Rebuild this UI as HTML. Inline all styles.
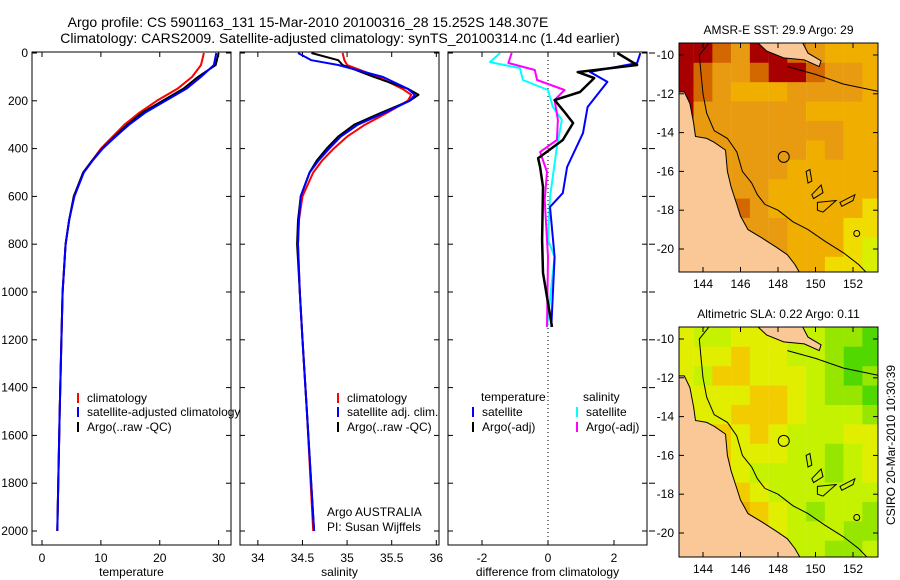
<!DOCTYPE html>
<html><head><meta charset="utf-8"><style>
body{margin:0;background:#fff}
svg{display:block;font-family:"Liberation Sans",sans-serif}
</style></head><body>
<svg id="fig" width="900" height="580" viewBox="0 0 900 580" xmlns="http://www.w3.org/2000/svg">
<rect width="900" height="580" fill="#fff"/>
<text x="308" y="27" font-size="14" text-anchor="middle">Argo profile: CS 5901163_131 15-Mar-2010 20100316_28 15.252S 148.307E</text>
<text x="340" y="43" font-size="14" text-anchor="middle">Climatology: CARS2009. Satellite-adjusted climatology: synTS_20100314.nc (1.4d earlier)</text>
<g id="g"></g>
</svg>
<script>
// ---- profile data ----
const depthT=[0,50,100,150,200,250,300,350,400,450,500,600,700,800,1000,1200,1500,2000];
const tempClim=[27.5,27,25.5,23,19.5,16.5,14,12,10,8.5,7,5.4,4.6,4,3.5,3.3,3.0,2.6];
const tempSat=[29.6,29.2,27,24.5,21,17.5,14.8,12.5,10.3,8.6,7.1,5.5,4.6,4,3.5,3.3,3.0,2.6];
const tempArgo=[30,29.5,26.5,24,20.5,17,14.5,12.3,10.2,8.5,7,5.4,4.6,4.0,3.5,3.3,3.0,2.6];
const depthS=[0,30,50,100,150,175,200,250,300,350,400,450,500,600,700,800,1000,1200,1500,2000];
const salClim=[34.95,34.97,35.0,35.35,35.62,35.72,35.68,35.45,35.2,35.0,34.85,34.72,34.62,34.5,34.46,34.45,34.47,34.5,34.55,34.62];
const salSat=[34.45,34.6,34.9,35.4,35.68,35.76,35.7,35.42,35.12,34.93,34.8,34.68,34.58,34.48,34.46,34.45,34.47,34.5,34.55,34.63];
const salArgo=[34.6,34.9,34.95,35.3,35.68,35.8,35.7,35.38,35.08,34.9,34.77,34.66,34.58,34.48,34.45,34.44,34.47,34.5,34.55,34.63];
const dBT=[0,42,79,121,226,335,477,586,644,853,1146];
const diffTSat=[2.8,2.7,1.27,1.8,1.2,1.06,0.58,0.45,0.06,0.2,0.1];
const dAT=[0,50,80,105,163,197,247,293,364,440,477,560,782,920,1146];
const diffTArgo=[2.1,2.7,0.9,1.4,0.97,0.2,0.5,0.76,0.45,-0.3,-0.24,-0.15,-0.18,-0.15,0.12];
const dM=[0,42,71,113,155,197,280,364,414,498,615,853,1146];
const diffSArgo=[-1.1,-1.2,-0.4,-0.33,0.5,0.2,0.3,0.27,-0.24,-0.03,-0.1,0,-0.03];
const dC=[0,38,63,113,155,226,280,393,603,782,853,1146];
const diffSSat=[-1.45,-1.76,-0.85,-0.76,0,0.15,0.42,0.27,0.06,0,0.2,-0.03];
const depthTicks=[0,200,400,600,800,1000,1200,1400,1600,1800,2000];
const tempTicks=[0,10,20,30], salTicks=[34,34.5,35,35.5,36], diffTicks=[-2,0,2];
// ---- map data (colour class per 1x1 deg cell, rows north->south, cols 143..153E) ----
const sstGrid=[[0,0,1,2,0,0,1,2,3,3,3],[0,1,2,2,1,0,0,1,2,2,3],[0,1,2,3,3,3,2,2,2,2,3],[0,2,2,2,2,2,2,3,3,3,3],[0,2,2,2,2,2,2,2,2,3,3],[1,2,2,2,2,2,2,3,2,3,3],[2,2,2,2,2,2,3,3,3,3,3],[2,2,2,2,2,3,3,3,3,3,3],[2,2,2,1,2,3,3,3,3,3,4],[2,2,2,2,2,2,3,3,3,4,4],[2,2,2,2,2,2,3,3,3,4,5],[2,2,2,2,2,2,3,3,4,4,5]];
const slaGrid=[[2,3,3,2,2,2,3,3,4,4,5],[2,2,2,1,2,2,3,3,4,5,5],[2,3,1,1,2,2,2,3,4,5,4],[2,2,2,2,1,1,2,3,4,4,5],[2,2,2,1,1,1,2,3,3,3,4],[2,2,1,2,1,2,3,3,3,2,2],[2,2,1,2,2,2,3,3,4,3,2],[2,2,1,2,3,3,3,3,4,3,2],[2,2,1,1,2,3,3,3,3,3,3],[2,2,1,0,1,2,3,4,3,3,4],[2,2,2,0,1,2,3,3,3,4,4],[2,2,2,1,1,2,3,3,4,4,3]];
const sstColors=["#a80000","#d46800","#e89a10","#efae00","#f0dc00","#d8f000"];
const slaColors=["#f0b000","#f3cc00","#e2ee00","#c4f200","#96e600","#50d800"];
const lonTicks=[144,146,148,150,152], latTicks=[-10,-12,-14,-16,-18,-20];
const argoPos=[148.307,-15.252];

const NS="http://www.w3.org/2000/svg", G=document.getElementById('g');
function el(t,a,p){const e=document.createElementNS(NS,t);for(const k in a)e.setAttribute(k,a[k]);(p||G).appendChild(e);return e;}
function tx(s,a,p){const e=el('text',a,p);e.textContent=s;return e;}
const Y0=52,Y1=545,dy=d=>53+d*0.239;

function panel(x0,x1,xv0,xv1,ticks,label,name,leftLabels){
  const g=el('g',{});
  
  
  el('rect',{x:x0,y:Y0,width:x1-x0,height:Y1-Y0,fill:'#fff'},g);
  const sx=v=>x0+(v-xv0)/(xv1-xv0)*(x1-x0);
  ticks.forEach(t=>{const X=sx(t);el('line',{x1:X,x2:X,y1:Y1,y2:Y1-5,stroke:'#000'},g);el('line',{x1:X,x2:X,y1:Y0,y2:Y0+5,stroke:'#000'},g);
    const l=tx(String(t),{x:X,y:Y1+17,'font-size':12,'text-anchor':'middle'},g);});
  depthTicks.forEach(d=>{const Y=dy(d);el('line',{x1:x0,x2:x0+5,y1:Y,y2:Y,stroke:'#000'},g);el('line',{x1:x1,x2:x1-5,y1:Y,y2:Y,stroke:'#000'},g);
    if(leftLabels){const l=tx(String(d),{x:x0-4,y:Y+4,'font-size':12,'text-anchor':'end'},g);}});
  const xl=tx(label,{x:(x0+x1)/2,y:576,'font-size':12,'text-anchor':'middle'},g);
  
  
  return {g,sx};
}
function line(P,xs,ds,color,w,name){
  const pts=xs.map((v,i)=>P.sx(v).toFixed(1)+','+dy(ds[i]).toFixed(1)).join(' ');
  const e=el('polyline',{points:pts,fill:'none',stroke:color,'stroke-width':w,'stroke-linejoin':'round'},P.g);
  
  
}
function frame(P,x0,x1){el('rect',{x:x0,y:Y0,width:x1-x0,height:Y1-Y0,fill:'none',stroke:'#000'},P.g);}
function leg(P,x,y,color,s,name){el('line',{x1:x,x2:x,y1:y-9,y2:y+1,stroke:color,'stroke-width':2},P.g);
  const t=tx(s,{x:x+9,y:y,'font-size':12},P.g);}

const P1=panel(32,231,-1.7,32.1,tempTicks,'temperature','temperature-panel',true);
line(P1,tempClim,depthT,'#f00',2,'temp-climatology-line');
line(P1,tempArgo,depthT,'#000',2,'temp-argo-line');
line(P1,tempSat,depthT,'#00f',2,'temp-satellite-line');
leg(P1,78,402,'#f00','climatology','legend-climatology');
leg(P1,78,416,'#00f','satellite-adjusted climatology','legend-satellite-adjusted');
leg(P1,78,431,'#000','Argo(..raw -QC)','legend-argo');
frame(P1,32,231);

const P2=panel(240,439,33.8,36.03,salTicks,'salinity','salinity-panel',false);
line(P2,salClim,depthS,'#f00',2,'sal-climatology-line');
line(P2,salArgo,depthS,'#000',2,'sal-argo-line');
line(P2,salSat,depthS,'#00f',2,'sal-satellite-line');
leg(P2,338,402,'#f00','climatology','legend-climatology');
leg(P2,338,416,'#00f','satellite adj. clim.','legend-satellite-adj');
leg(P2,338,431,'#000','Argo(..raw -QC)','legend-argo');
let t=tx('Argo AUSTRALIA',{x:327,y:516,'font-size':12},P2.g);
t=tx('PI: Susan Wijffels',{x:327,y:531,'font-size':12},P2.g);
frame(P2,240,439);

const P3=panel(448,647,-3.03,3.0,diffTicks,'difference from climatology','difference-panel',false);
el('line',{x1:P3.sx(0),x2:P3.sx(0),y1:Y0,y2:Y1,stroke:'#000','stroke-dasharray':'1,3'},P3.g);
line(P3,diffSSat,dC,'#0ff',2,'sal-satellite-diff-line');
line(P3,diffSArgo,dM,'#f0f',2,'sal-argo-diff-line');
line(P3,diffTSat,dBT,'#00f',2,'temp-satellite-diff-line');
line(P3,diffTArgo,dAT,'#000',2.5,'temp-argo-diff-line');
t=tx('temperature',{x:481,y:401,'font-size':12},P3.g);
t=tx('salinity',{x:583,y:401,'font-size':12},P3.g);
leg(P3,473,416,'#00f','satellite','legend-temp-satellite');
leg(P3,473,431,'#000','Argo(-adj)','legend-temp-argo');
leg(P3,577,416,'#0ff','satellite','legend-sal-satellite');
leg(P3,577,431,'#f0f','Argo(-adj)','legend-sal-argo');
frame(P3,448,647);
depthTicks.forEach(d=>el('line',{x1:649,x2:655,y1:dy(d),y2:dy(d),stroke:'#000'},P3.g));

// ---- maps ----
const land=[[142.7,-11.9],[143.0,-11.9],[143.3,-12.5],[143.5,-13.5],[143.6,-14.2],[144.2,-14.3],[144.6,-14.5],[145.2,-14.9],[145.3,-16],[145.5,-16.8],[145.8,-17.7],[146.0,-18.3],[146.4,-19],[147.1,-19.4],[147.9,-19.9],[148.5,-20.3],[148.9,-20.8],[149.2,-21.3],[142.7,-21.3]];
const png=[[146.9,-9.35],[147.4,-9.8],[148.3,-10.15],[149.4,-10.25],[150.2,-10.6],[150.3,-10.3],[149.6,-9.9],[149.3,-9.35]];
const shelf=[[144.3,-9.4],[143.8,-10],[143.9,-11],[144.0,-12],[144.2,-13],[144.6,-13.9],[145.3,-14.3],[145.8,-15],[146.1,-16],[146.6,-16.6],[146.9,-17.2],[147.3,-17.7],[148,-18],[148.8,-18.6],[149.6,-19],[150.5,-19.6],[151.5,-20.2],[152.3,-20.8],[152.8,-21.3]];
const shelf2=[[148.5,-10.6],[150,-11],[151.5,-11.5],[153.5,-11.9]];
const isl=[[[149.5,-16.0],[149.7,-15.9],[149.8,-16.5],[149.6,-16.6]],[[150.3,-16.7],[150.4,-17.1],[149.9,-17.4],[149.8,-17.2]],[[150.1,-17.6],[151.1,-17.5],[150.4,-18.1],[150.1,-18.0]],[[151.3,-17.6],[152.1,-17.2],[152.0,-17.5],[151.4,-17.8]]];
function map(y0,y1,lat10,lat20,grid,cols,title,name){
  const x0=679,x1=878;
  const g=el('g',{});
  
  
  const sx=l=>703+(l-144)*18.75, sy=la=>lat10+(-10-la)*(lat20-lat10)/10;
  const cp=el('clipPath',{id:'c'+name},g);el('rect',{x:x0,y:y0,width:x1-x0,height:y1-y0},cp);
  const m=el('g',{'clip-path':'url(#c'+name+')'},g);
  grid.forEach((row,r)=>row.forEach((v,c)=>{
    const cell=el('rect',{x:sx(142.5+c),y:sy(-9.4-r),width:18.9,height:(lat20-lat10)/10+0.5,fill:cols[v]},m);
    
    
  }));
  const pp=a=>a.map(p=>sx(p[0]).toFixed(1)+','+sy(p[1]).toFixed(1)).join(' ');
  el('polygon',{points:pp(land),fill:'#f9c896',stroke:'#000','stroke-width':1},m);
  el('polygon',{points:pp(png),fill:'#f9c896',stroke:'#000','stroke-width':1},m);
  el('polyline',{points:pp(shelf),fill:'none',stroke:'#000','stroke-width':1},m);
  el('polyline',{points:pp(shelf2),fill:'none',stroke:'#000','stroke-width':1},m);
  isl.forEach(i=>el('polygon',{points:pp(i),fill:'none',stroke:'#000'},m));
  el('circle',{cx:sx(152.2),cy:sy(-19.2),r:3,fill:'none',stroke:'#000'},m);
  const ap=el('circle',{cx:sx(argoPos[0]),cy:sy(argoPos[1]),r:5.5,fill:'none',stroke:'#000','stroke-width':1},m);
  
  
  el('rect',{x:x0,y:y0,width:x1-x0,height:y1-y0,fill:'none',stroke:'#000'},g);
  lonTicks.forEach(l=>{const X=sx(l);el('line',{x1:X,x2:X,y1:y1,y2:y1-5,stroke:'#000'},g);el('line',{x1:X,x2:X,y1:y0,y2:y0+5,stroke:'#000'},g);
    const q=tx(String(l),{x:X,y:y1+16,'font-size':12,'text-anchor':'middle'},g);});
  latTicks.forEach(l=>{const Y=sy(l);el('line',{x1:x0,x2:x0+5,y1:Y,y2:Y,stroke:'#000'},g);el('line',{x1:x1,x2:x1-5,y1:Y,y2:Y,stroke:'#000'},g);
    const q=tx(String(l),{x:x0-5,y:Y+4,'font-size':12,'text-anchor':'end'},g);});
  const q=tx(title,{x:(x0+x1)/2,y:y0-9,'font-size':12,'text-anchor':'middle'},g);
  
  
}
map(43,272,55,249,sstGrid,sstColors,'AMSR-E SST: 29.9 Argo: 29','sst-map');
map(327,557,339,533,slaGrid,slaColors,'Altimetric SLA: 0.22 Argo: 0.11','sla-map');
t=tx('CSIRO 20-Mar-2010 10:30:39',{x:0,y:0,'font-size':12,'text-anchor':'middle',transform:'translate(895,445) rotate(-90)'});


</script>
</body></html>
